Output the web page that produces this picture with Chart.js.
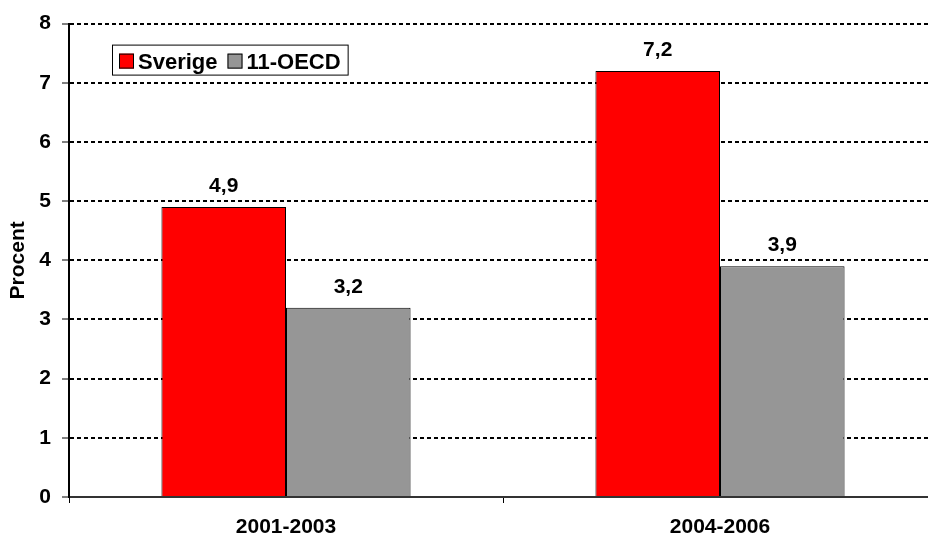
<!DOCTYPE html>
<html><head><meta charset="utf-8">
<script src="https://cdn.jsdelivr.net/npm/chart.js@4"></script>
<style>html,body{margin:0;padding:0;overflow:hidden;background:#fff;width:928px;height:538px}
#wrap{width:940px;height:538px;position:relative}</style>
</head><body><div id="wrap"><canvas id="c"></canvas></div>
<script>
const categories = ["2001-2003", "2004-2006"];
const sverige = [4.9, 7.2];
const oecd = [3.2, 3.9];
const seriesNames = ["Sverige", "11-OECD"];
const yTicks = [0,1,2,3,4,5,6,7,8];
const FONT = "'Liberation Sans', Arial, sans-serif";
const FS = 21;
const LFS = 22;

const labelsPlugin = {
  id: 'vals',
  afterDatasetsDraw(chart) {
    const ctx = chart.ctx;
    ctx.save();
    ctx.font = "bold " + FS + "px " + FONT;
    ctx.fillStyle = '#000';
    ctx.textAlign = 'center';
    ctx.textBaseline = 'alphabetic';
    chart.data.datasets.forEach((ds, i) => {
      chart.getDatasetMeta(i).data.forEach((bar, j) => {
        ctx.fillText(ds.data[j].toFixed(1).replace('.', ','), bar.x, bar.y - 15);
      });
    });
    ctx.restore();
  },
  afterDraw(chart) {
    const ctx = chart.ctx, a = chart.chartArea;
    ctx.save();
    const x0 = a.left + 43, y0 = a.top + 21, h = 30;
    ctx.font = "bold " + LFS + "px " + FONT;
    const items = chart.data.datasets.map(d => ({t: d.label, c: d.backgroundColor}));
    let x = x0 + 7;
    const pos = [];
    items.forEach(it => {
      pos.push(x);
      x += 15 + 4 + ctx.measureText(it.t).width + 10;
    });
    const w = x - x0 - 3;
    ctx.fillStyle = '#fff';
    ctx.fillRect(x0, y0, w, h);
    ctx.strokeStyle = '#000';
    ctx.lineWidth = 1;
    ctx.strokeRect(x0 + 0.5, y0 + 0.5, w, h);
    items.forEach((it, i) => {
      const px = pos[i];
      ctx.fillStyle = it.c;
      ctx.fillRect(px, y0 + 9, 15, 15);
      ctx.strokeRect(px + 0.5, y0 + 9.5, 14, 14);
      ctx.fillStyle = '#000';
      ctx.textBaseline = 'alphabetic';
      ctx.textAlign = 'left';
      ctx.fillText(it.t, px + 19, y0 + 24);
    });
    ctx.restore();
  }
};

new Chart(document.getElementById('c'), {
  type: 'bar',
  data: {
    labels: categories,
    datasets: [
      {label: seriesNames[0], data: sverige, backgroundColor: '#FF0000', borderColor: '#000', borderWidth: 1},
      {label: seriesNames[1], data: oecd, backgroundColor: '#969696', borderColor: '#000', borderWidth: 1}
    ]
  },
  options: {
    responsive: true,
    maintainAspectRatio: false,
    animation: false,
    devicePixelRatio: 1,
    layout: {padding: {top: 23, right: 3, left: 0, bottom: 0}},
    datasets: {bar: {categoryPercentage: 0.574, barPercentage: 1.0}},
    plugins: {legend: {display: false}, tooltip: {enabled: false}},
    scales: {
      x: {
        afterFit(s) { s.height = 41; },
        grid: {display: true, drawOnChartArea: false, drawTicks: true, tickLength: 6, color: '#000', offset: true},
        border: {display: true, color: '#333', width: 2},
        ticks: {font: {family: FONT, size: FS, weight: 'bold'}, color: '#000', padding: 12}
      },
      y: {
        min: 0, max: 8,
        afterFit(s) { s.width = 69; },
        afterBuildTicks(s) { s.ticks = yTicks.map(v => ({value: v})); },
        grid: {color: '#000', lineWidth: 2, tickLength: 7, tickBorderDash: [], tickColor: '#000', tickWidth: 1},
        border: {display: true, color: '#000', width: 2, dash: [4, 3]},
        ticks: {font: {family: FONT, size: FS, weight: 'bold'}, color: '#000', padding: 11},
        title: {display: true, text: 'Procent', font: {family: FONT, size: FS, weight: 'bold'}, color: '#000', padding: {top: 6, bottom: 0}}
      }
    }
  },
  plugins: [labelsPlugin]
});
</script></body></html>
